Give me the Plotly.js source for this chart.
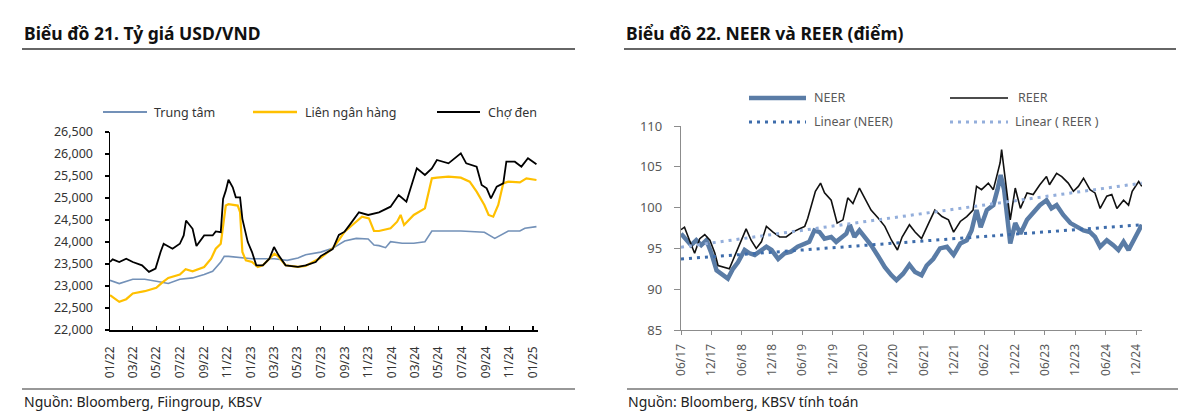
<!DOCTYPE html>
<html>
<head>
<meta charset="utf-8">
<script src="https://cdn.plot.ly/plotly-3.0.1.min.js"></script>
<style>
  html, body { margin: 0; padding: 0; background: #ffffff; }
  #chart { width: 1200px; height: 420px; }
</style>
</head>
<body>
<div id="chart"></div>
<script>
// ---------------- Chart 21: USD/VND ----------------
const centralName = 'Trung tâm';
const centralDates = ['2022-01-01','2022-01-25','2022-03-01','2022-04-01','2022-05-01','2022-06-01','2022-07-01','2022-08-03','2022-09-02','2022-09-24','2022-10-15','2022-10-24','2022-11-04','2023-01-04','2023-03-03','2023-04-05','2023-05-03','2023-05-23','2023-07-01','2023-08-01','2023-09-01','2023-10-01','2023-11-01','2023-11-16','2023-11-29','2023-12-16','2023-12-29','2024-01-28','2024-02-27','2024-03-27','2024-04-14','2024-04-27','2024-06-28','2024-08-28','2024-09-24','2024-10-29','2024-11-28','2024-12-11','2025-01-10'];
const centralRates = [23130,23056,23154,23154,23108,23056,23154,23184,23259,23335,23546,23674,23674,23621,23621,23583,23636,23712,23770,23856,24023,24083,24068,23932,23917,23871,24007,23970,23970,24007,24250,24250,24250,24220,24083,24250,24250,24311,24349];

const interbankName = 'Liên ngân hàng';
const interbankDates = ['2022-01-01','2022-01-12','2022-01-25','2022-02-12','2022-03-01','2022-04-01','2022-04-20','2022-05-01','2022-05-16','2022-06-01','2022-07-01','2022-07-16','2022-08-03','2022-09-02','2022-09-20','2022-10-02','2022-10-15','2022-10-21','2022-10-28','2022-11-04','2022-11-28','2022-12-04','2022-12-10','2022-12-19','2023-01-04','2023-01-19','2023-02-01','2023-02-18','2023-03-03','2023-03-14','2023-04-01','2023-05-03','2023-05-23','2023-07-01','2023-08-01','2023-08-17','2023-09-01','2023-09-21','2023-10-16','2023-11-03','2023-11-16','2023-11-29','2023-12-29','2024-01-15','2024-01-24','2024-02-02','2024-02-27','2024-03-27','2024-04-14','2024-04-27','2024-05-27','2024-06-28','2024-07-21','2024-08-08','2024-08-28','2024-09-08','2024-09-20','2024-10-03','2024-10-16','2024-10-29','2024-11-28','2024-12-15','2025-01-10'];
const interbankRates = [22792,22716,22641,22700,22830,22882,22927,22958,23078,23184,23259,23380,23335,23433,23621,23847,23960,24375,24828,24858,24828,24677,23772,23583,23546,23433,23470,23621,23734,23659,23470,23433,23455,23640,23856,24045,24235,24386,24576,24538,24250,24250,24311,24462,24614,24386,24614,24765,25447,25462,25485,25462,25371,25144,24841,24614,24576,24841,25333,25371,25356,25447,25409];

const blackName = 'Chợ đen';
const blackDates = ['2022-01-01','2022-01-08','2022-01-25','2022-02-12','2022-03-01','2022-03-25','2022-04-12','2022-04-29','2022-05-12','2022-05-20','2022-06-12','2022-07-01','2022-07-11','2022-07-17','2022-08-03','2022-08-13','2022-09-02','2022-09-24','2022-10-02','2022-10-15','2022-10-21','2022-10-28','2022-11-04','2022-11-15','2022-11-23','2022-12-04','2022-12-10','2022-12-24','2023-01-04','2023-01-15','2023-02-01','2023-02-18','2023-03-02','2023-03-14','2023-04-01','2023-05-03','2023-05-23','2023-06-18','2023-07-01','2023-08-01','2023-08-17','2023-09-01','2023-09-17','2023-10-08','2023-11-01','2023-11-29','2023-12-29','2024-01-19','2024-02-08','2024-02-23','2024-03-06','2024-03-27','2024-04-14','2024-04-27','2024-05-27','2024-06-28','2024-07-12','2024-08-08','2024-08-21','2024-09-03','2024-09-14','2024-09-29','2024-10-16','2024-10-24','2024-11-15','2024-12-02','2024-12-19','2025-01-10'];
const blackRates = [23546,23606,23546,23621,23546,23470,23320,23395,23772,23960,23847,23960,24149,24488,24300,23908,24149,24149,24240,24224,24978,25167,25416,25242,25016,25016,24526,23998,23772,23470,23470,23621,23885,23697,23470,23433,23470,23546,23680,23841,24159,24235,24424,24674,24614,24674,24803,25068,24917,25333,25674,25523,25674,25864,25788,26015,25788,25712,25295,25220,24992,25257,25333,25826,25826,25712,25902,25765];

const leftTickVals = ['2022-01-01','2022-03-01','2022-05-01','2022-07-01','2022-09-01','2022-11-01','2023-01-01','2023-03-01','2023-05-01','2023-07-01','2023-09-01','2023-11-01','2024-01-01','2024-03-01','2024-05-01','2024-07-01','2024-09-01','2024-11-01','2025-01-01'];
const leftTickText = ['01/22','03/22','05/22','07/22','09/22','11/22','01/23','03/23','05/23','07/23','09/23','11/23','01/24','03/24','05/24','07/24','09/24','11/24','01/25'];

// ---------------- Chart 22: NEER & REER ----------------
const neerName = 'NEER';
const neerDates = ['2017-06-01','2017-07-04','2017-08-01','2017-09-01','2017-10-01','2017-11-01','2017-12-01','2018-01-01','2018-02-01','2018-03-10','2018-04-10','2018-05-10','2018-06-19','2018-07-19','2018-08-19','2018-09-28','2018-10-28','2018-11-28','2019-01-07','2019-02-15','2019-03-25','2019-05-04','2019-06-16','2019-07-13','2019-08-13','2019-09-13','2019-10-13','2019-11-22','2019-12-22','2020-01-22','2020-02-21','2020-03-13','2020-04-10','2020-05-10','2020-06-10','2020-07-19','2020-09-01','2020-10-10','2020-11-19','2020-12-19','2021-01-28','2021-03-07','2021-04-10','2021-05-19','2021-06-19','2021-07-28','2021-09-07','2021-10-19','2021-11-28','2022-01-07','2022-02-15','2022-03-16','2022-04-15','2022-05-10','2022-06-16','2022-07-25','2022-08-19','2022-09-07','2022-09-28','2022-10-19','2022-11-04','2022-12-04','2023-01-04','2023-02-13','2023-03-22','2023-05-01','2023-06-10','2023-07-10','2023-08-10','2023-09-19','2023-11-01','2023-12-10','2024-01-19','2024-02-27','2024-03-28','2024-04-28','2024-06-07','2024-07-16','2024-08-16','2024-09-16','2024-10-16','2024-11-16','2024-12-25','2025-01-04'];
const neerValues = [96.8,96.0,95.4,96.0,95.4,96.0,94.4,92.3,91.9,91.3,92.5,93.3,94.8,94.4,94.2,94.8,95.2,94.8,93.7,94.4,94.6,95.2,95.6,95.8,97.2,97.0,96.2,96.4,95.8,96.4,96.8,97.9,96.4,97.2,96.4,95.4,94.0,92.7,91.7,91.1,91.9,93.0,92.1,91.7,92.9,93.7,95.0,95.2,94.2,95.6,96.0,97.2,99.7,97.6,99.7,100.3,102.2,104.0,102.2,98.9,95.6,98.1,96.8,98.5,99.3,100.3,100.9,99.9,100.3,99.1,98.1,97.6,97.2,97.0,96.4,95.2,96.0,95.4,94.8,95.8,94.8,96.0,97.6,97.9];

const reerName = 'REER';
const reerDates = ['2017-06-01','2017-06-22','2017-07-22','2017-08-22','2017-09-22','2017-10-22','2017-11-22','2017-12-22','2018-01-10','2018-02-10','2018-03-19','2018-04-19','2018-05-28','2018-06-28','2018-07-28','2018-08-28','2018-09-28','2018-10-28','2018-12-07','2019-01-16','2019-02-24','2019-04-04','2019-05-16','2019-06-16','2019-07-04','2019-07-25','2019-08-19','2019-09-19','2019-10-13','2019-11-22','2019-12-13','2019-12-28','2020-02-01','2020-03-01','2020-04-01','2020-05-10','2020-06-10','2020-07-19','2020-09-01','2020-10-10','2020-11-19','2020-12-25','2021-01-22','2021-03-07','2021-04-10','2021-05-19','2021-07-01','2021-08-07','2021-09-19','2021-10-28','2021-11-28','2022-01-07','2022-02-15','2022-03-25','2022-04-15','2022-05-15','2022-06-25','2022-07-25','2022-08-19','2022-09-04','2022-09-13','2022-09-28','2022-10-19','2022-11-04','2022-12-04','2023-01-04','2023-02-13','2023-03-22','2023-05-01','2023-06-10','2023-06-28','2023-08-10','2023-09-10','2023-10-19','2023-11-19','2023-12-19','2024-01-19','2024-02-27','2024-03-28','2024-04-28','2024-06-07','2024-07-07','2024-08-07','2024-09-16','2024-10-16','2024-11-07','2024-12-16','2025-01-04'];
const reerValues = [97.3,97.6,96.0,94.4,96.2,96.7,96.0,94.4,92.9,92.7,92.5,94.0,96.0,97.4,96.0,95.0,95.8,97.7,97.0,96.4,96.4,97.0,97.4,97.7,98.7,100.1,102.0,103.0,101.8,100.9,99.3,98.1,98.5,101.2,100.5,102.4,101.2,99.7,98.7,97.7,96.0,94.8,96.4,97.9,97.0,96.2,98.1,99.7,98.9,98.5,97.0,98.3,98.9,99.7,102.6,102.2,103.0,102.2,104.2,105.5,107.1,104.7,100.9,98.5,102.4,99.9,101.8,101.6,102.8,103.8,102.8,104.2,103.8,103.0,102.0,102.6,103.6,102.2,101.8,99.9,101.4,101.6,99.9,100.9,100.3,102.0,103.2,102.6];

const linearNeerName = 'Linear (NEER)';
const linearNeerDates = ['2017-06-01','2025-01-04'];
const linearNeerValues = [93.7,97.9];
const linearReerName = 'Linear ( REER )';
const linearReerDates = ['2017-06-01','2025-01-04'];
const linearReerValues = [95.15,103.0];

const rightTickVals = ['2017-06-01','2017-12-01','2018-06-01','2018-12-01','2019-06-01','2019-12-01','2020-06-01','2020-12-01','2021-06-01','2021-12-01','2022-06-01','2022-12-01','2023-06-01','2023-12-01','2024-06-01','2024-12-01'];
const rightTickText = ['06/17','12/17','06/18','12/18','06/19','12/19','06/20','12/20','06/21','12/21','06/22','12/22','06/23','12/23','06/24','12/24'];

// ---------------- Texts ----------------
const title21 = 'Biểu đồ 21. Tỷ giá USD/VND';
const title22 = 'Biểu đồ 22. NEER và REER (điểm)';
const source21 = 'Nguồn: Bloomberg, Fiingroup, KBSV';
const source22 = 'Nguồn: Bloomberg, KBSV tính toán';

// ---------------- Styles ----------------
const W = 1200, H = 420;
const px = v => v / W;
const py = v => (H - v) / H;

const colCentral = '#7391b8';
const colInterbank = '#ffc000';
const colBlack = '#000000';
const colNeer = '#5a7ca6';
const colReer = '#111111';
const colLinNeer = '#3d6cab';
const colLinReer = '#93aedb';
const dotDash = '3px,5px';

const traces = [
  {x: centralDates, y: centralRates, name: centralName, type: 'scatter', mode: 'lines', xaxis: 'x', yaxis: 'y', line: {color: colCentral, width: 1.6}},
  {x: interbankDates, y: interbankRates, name: interbankName, type: 'scatter', mode: 'lines', xaxis: 'x', yaxis: 'y', line: {color: colInterbank, width: 2.2}},
  {x: blackDates, y: blackRates, name: blackName, type: 'scatter', mode: 'lines', xaxis: 'x', yaxis: 'y', line: {color: colBlack, width: 1.8}},
  {x: neerDates, y: neerValues, name: neerName, type: 'scatter', mode: 'lines', xaxis: 'x2', yaxis: 'y2', line: {color: colNeer, width: 4.5}},
  {x: reerDates, y: reerValues, name: reerName, type: 'scatter', mode: 'lines', xaxis: 'x2', yaxis: 'y2', line: {color: colReer, width: 1.6}},
  {x: linearNeerDates, y: linearNeerValues, name: linearNeerName, type: 'scatter', mode: 'lines', xaxis: 'x2', yaxis: 'y2', line: {color: colLinNeer, width: 3, dash: dotDash}},
  {x: linearReerDates, y: linearReerValues, name: linearReerName, type: 'scatter', mode: 'lines', xaxis: 'x2', yaxis: 'y2', line: {color: colLinReer, width: 3, dash: dotDash}}
];

const fontMain = 'Noto Sans, Open Sans, sans-serif';

const layout = {
  width: W, height: H,
  margin: {l: 0, r: 0, t: 0, b: 0, pad: 0},
  paper_bgcolor: '#ffffff', plot_bgcolor: 'rgba(0,0,0,0)',
  showlegend: false,
  font: {family: fontMain, color: '#333333'},
  xaxis: {
    domain: [px(110), px(538)], anchor: 'y', type: 'date',
    range: ['2022-01-01', '2025-01-14'],
    tickmode: 'array', tickvals: leftTickVals, ticktext: leftTickText,
    tickangle: -90, ticks: 'inside', ticklen: 4, tickwidth: 1.2, tickcolor: '#000',
    showline: true, linecolor: '#000', linewidth: 1.5,
    showgrid: false, zeroline: false,
    tickfont: {family: fontMain, size: 12, color: '#333'},
    ticklabelstandoff: 10, fixedrange: true
  },
  yaxis: {
    domain: [py(330), py(132)], anchor: 'x',
    range: [22000, 26500], dtick: 500, tick0: 22000, tickformat: ',d',
    ticks: 'outside', ticklen: 4, tickwidth: 1.2, tickcolor: '#000',
    showline: true, linecolor: '#000', linewidth: 1.5,
    showgrid: false, zeroline: false,
    tickfont: {family: fontMain, size: 12.5, color: '#333'},
    ticklabelstandoff: 9, fixedrange: true
  },
  xaxis2: {
    domain: [px(681), px(1142)], anchor: 'y2', type: 'date',
    range: ['2017-06-01', '2025-01-05'],
    tickmode: 'array', tickvals: rightTickVals, ticktext: rightTickText,
    tickangle: -90, ticks: 'outside', ticklen: 4, tickwidth: 1, tickcolor: '#8c8c8c',
    showline: true, linecolor: '#8c8c8c', linewidth: 1.2,
    showgrid: false, zeroline: false,
    tickfont: {family: fontMain, size: 12, color: '#595959'},
    ticklabelstandoff: 4, fixedrange: true
  },
  yaxis2: {
    domain: [py(330), py(126)], anchor: 'x2',
    range: [85, 110], dtick: 5, tick0: 85,
    ticks: 'outside', ticklen: 6, tickwidth: 1, tickcolor: '#8c8c8c',
    showline: true, linecolor: '#8c8c8c', linewidth: 1.2,
    showgrid: false, zeroline: false,
    tickfont: {family: fontMain, size: 13, color: '#595959'},
    ticklabelstandoff: 9, fixedrange: true
  },
  shapes: [
    {type: 'line', xref: 'paper', yref: 'paper', x0: px(22), x1: px(575), y0: py(49), y1: py(49), line: {color: '#333', width: 1.3}},
    {type: 'line', xref: 'paper', yref: 'paper', x0: px(624), x1: px(1176), y0: py(49), y1: py(49), line: {color: '#333', width: 1.3}},
    {type: 'line', xref: 'paper', yref: 'paper', x0: px(22), x1: px(575), y0: py(389), y1: py(389), line: {color: '#333', width: 1.2}},
    {type: 'line', xref: 'paper', yref: 'paper', x0: px(627), x1: px(1178), y0: py(389), y1: py(389), line: {color: '#333', width: 1.2}},
    {type: 'line', xref: 'paper', yref: 'paper', x0: px(103), x1: px(147), y0: py(112), y1: py(112), line: {color: colCentral, width: 1.8}},
    {type: 'line', xref: 'paper', yref: 'paper', x0: px(253), x1: px(297), y0: py(112), y1: py(112), line: {color: colInterbank, width: 2.4}},
    {type: 'line', xref: 'paper', yref: 'paper', x0: px(437), x1: px(480), y0: py(112), y1: py(112), line: {color: colBlack, width: 1.8}},
    {type: 'line', xref: 'paper', yref: 'paper', x0: px(749), x1: px(806), y0: py(98), y1: py(98), line: {color: colNeer, width: 4.5}},
    {type: 'line', xref: 'paper', yref: 'paper', x0: px(950), x1: px(1008), y0: py(98), y1: py(98), line: {color: colReer, width: 1.6}},
    {type: 'line', xref: 'paper', yref: 'paper', x0: px(749), x1: px(806), y0: py(122), y1: py(122), line: {color: colLinNeer, width: 3, dash: dotDash}},
    {type: 'line', xref: 'paper', yref: 'paper', x0: px(950), x1: px(1008), y0: py(122), y1: py(122), line: {color: colLinReer, width: 3, dash: dotDash}}
  ],
  annotations: [
    {text: title21, xref: 'paper', yref: 'paper', x: px(22), y: py(33), xanchor: 'left', yanchor: 'middle', showarrow: false, font: {family: fontMain, size: 17.5, weight: 700, color: '#111'}},
    {text: title22, xref: 'paper', yref: 'paper', x: px(624), y: py(33), xanchor: 'left', yanchor: 'middle', showarrow: false, font: {family: fontMain, size: 17.5, weight: 700, color: '#111'}},
    {text: source21, xref: 'paper', yref: 'paper', x: px(22), y: py(401), xanchor: 'left', yanchor: 'middle', showarrow: false, font: {family: fontMain, size: 14, color: '#222'}},
    {text: source22, xref: 'paper', yref: 'paper', x: px(626), y: py(401), xanchor: 'left', yanchor: 'middle', showarrow: false, font: {family: fontMain, size: 14, color: '#222'}},
    {text: centralName, xref: 'paper', yref: 'paper', x: px(152), y: py(112), xanchor: 'left', yanchor: 'middle', showarrow: false, font: {family: fontMain, size: 12.5, color: '#333'}},
    {text: interbankName, xref: 'paper', yref: 'paper', x: px(303), y: py(112), xanchor: 'left', yanchor: 'middle', showarrow: false, font: {family: fontMain, size: 12.5, color: '#333'}},
    {text: blackName, xref: 'paper', yref: 'paper', x: px(486), y: py(112), xanchor: 'left', yanchor: 'middle', showarrow: false, font: {family: fontMain, size: 12.5, color: '#333'}},
    {text: neerName, xref: 'paper', yref: 'paper', x: px(812), y: py(98), xanchor: 'left', yanchor: 'middle', showarrow: false, font: {family: fontMain, size: 12.5, color: '#595959'}},
    {text: reerName, xref: 'paper', yref: 'paper', x: px(1016), y: py(98), xanchor: 'left', yanchor: 'middle', showarrow: false, font: {family: fontMain, size: 12.5, color: '#595959'}},
    {text: linearNeerName, xref: 'paper', yref: 'paper', x: px(812), y: py(122), xanchor: 'left', yanchor: 'middle', showarrow: false, font: {family: fontMain, size: 12.5, color: '#595959'}},
    {text: linearReerName, xref: 'paper', yref: 'paper', x: px(1013), y: py(122), xanchor: 'left', yanchor: 'middle', showarrow: false, font: {family: fontMain, size: 12.5, color: '#595959'}}
  ]
};

Plotly.newPlot('chart', traces, layout, {staticPlot: true, displayModeBar: false});
</script>
</body>
</html>
